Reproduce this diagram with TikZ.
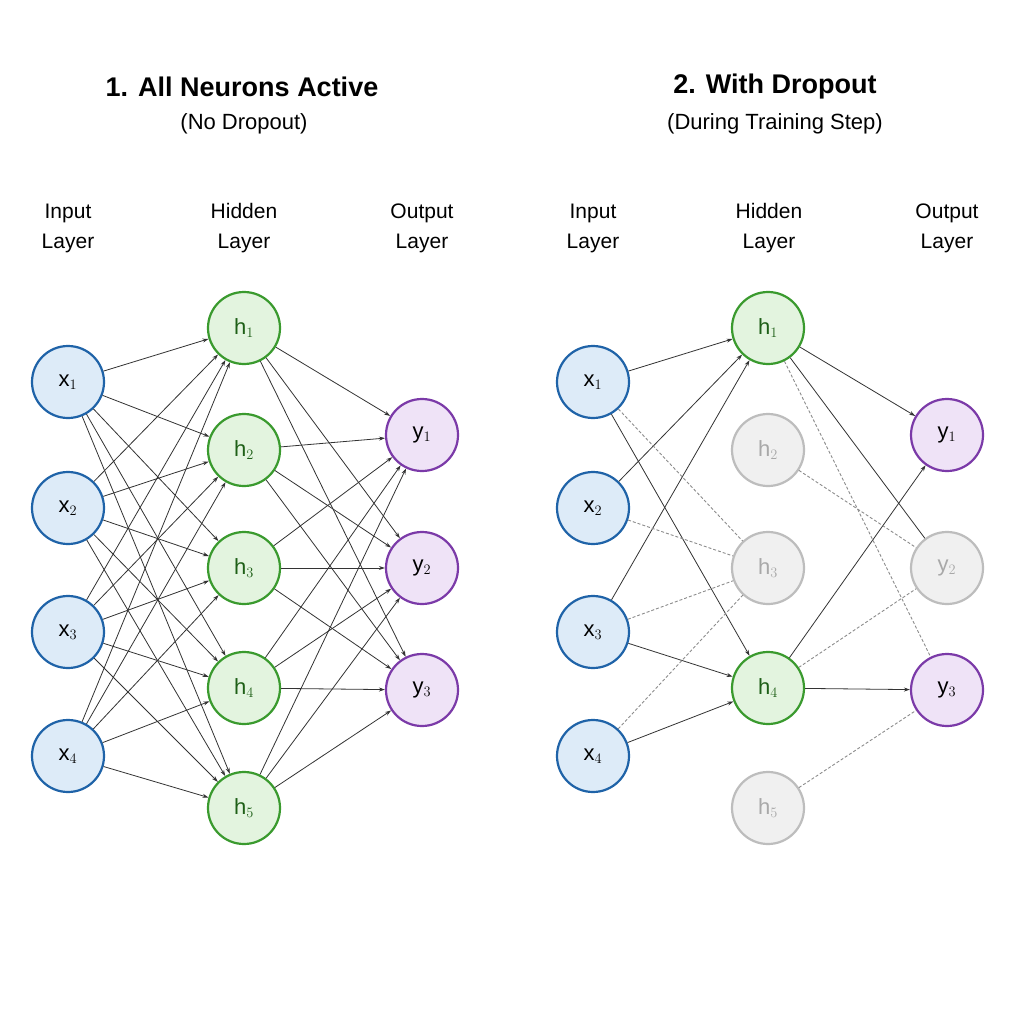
\documentclass[tikz,border=0pt]{standalone}
\usepackage{fontspec}
\setmainfont{Liberation Sans}
\usetikzlibrary{arrows.meta}
\definecolor{inb}{HTML}{1F63A8}\definecolor{inf}{HTML}{DDEBF8}
\definecolor{hg}{HTML}{3A9A2E}\definecolor{hf}{HTML}{E3F4DF}\definecolor{ht}{HTML}{1E5F17}
\definecolor{op}{HTML}{7B3AA8}\definecolor{of}{HTML}{EFE3F7}
\definecolor{gr}{HTML}{BDBDBD}\definecolor{gf}{HTML}{F0F0F0}\definecolor{gt}{HTML}{A8A8A8}
\begin{document}
\begin{tikzpicture}[x=1pt,y=-1pt,
 neu/.style={circle,minimum size=72pt,inner sep=0pt,line width=2.2pt,font=\fontsize{22}{24}\selectfont},
 inn/.style={neu,draw=inb,fill=inf,text=black},
 hid/.style={neu,draw=hg,fill=hf,text=ht},
 outn/.style={neu,draw=op,fill=of,text=black},
 drop/.style={neu,draw=gr,fill=gf,text=gt},
 con/.style={draw=black!80,line width=0.8pt,-{Stealth[length=6pt,width=4pt]}},
 dcon/.style={draw=black!45,line width=0.9pt,dashed,dash pattern=on 3pt off 2pt},
 ttl/.style={font=\fontsize{27}{30}\selectfont\bfseries},
 sub/.style={font=\fontsize{22}{26}\selectfont},
 lay/.style={font=\fontsize{21}{30}\selectfont,align=center}]
\fill[white] (0,0) rectangle (1024,1024);
\useasboundingbox (0,0) rectangle (1024,1024);
% titles
\node[ttl] (t1) at (242,87) {1. All Neurons Active};
\node[sub] (s1) at (244,124) {(No Dropout)};
\node[ttl] (t2) at (775,87) {2. With Dropout};
\node[sub] (s2) at (775,124) {(During Training Step)};
\foreach \n/\x in {a/0,b/525}{
 \node[lay] (li\n) at (68+\x,228) {Input\\Layer};
 \node[lay] (lh\n) at (244+\x,228) {Hidden\\Layer};
 \node[lay] (lo\n) at (422+\x,228) {Output\\Layer};}
% left network
\foreach \i/\y in {1/382,2/508,3/632,4/756} \node[inn] (ax\i) at (68,\y) {x$_{\i}$};
\foreach \i/\y in {1/328,2/450,3/568,4/688,5/808} \node[hid] (ah\i) at (244,\y) {h$_{\i}$};
\foreach \i/\y in {1/435,2/568,3/690} \node[outn] (ay\i) at (422,\y) {y$_{\i}$};
\foreach \i in {1,...,4} \foreach \j in {1,...,5} \draw[con] (ax\i) -- (ah\j);
\foreach \i in {1,...,5} \foreach \j in {1,...,3} \draw[con] (ah\i) -- (ay\j);
% right network
\foreach \i/\y in {1/382,2/508,3/632,4/756} \node[inn] (bx\i) at (593,\y) {x$_{\i}$};
\node[hid] (bh1) at (768,328) {h$_1$};
\node[drop] (bh2) at (768,450) {h$_2$};
\node[drop] (bh3) at (768,568) {h$_3$};
\node[hid] (bh4) at (768,688) {h$_4$};
\node[drop] (bh5) at (768,808) {h$_5$};
\node[outn] (by1) at (947,435) {y$_1$};
\node[drop] (by2) at (947,568) {y$_2$};
\node[outn] (by3) at (947,690) {y$_3$};
\foreach \a/\b in {bx1/bh1,bx2/bh1,bx3/bh1,bx1/bh4,bx3/bh4,bx4/bh4,bh1/by1,bh4/by1,bh4/by3}
 \draw[con] (\a) -- (\b);
\draw[draw=black!80,line width=0.8pt] (bh1) -- (by2);
\foreach \a/\b in {bx1/bh3,bx2/bh3,bx3/bh3,bx4/bh3,bh1/by3,bh2/by2,bh4/by2,bh5/by3}
 \draw[dcon] (\a) -- (\b);
\end{tikzpicture}
\end{document}
